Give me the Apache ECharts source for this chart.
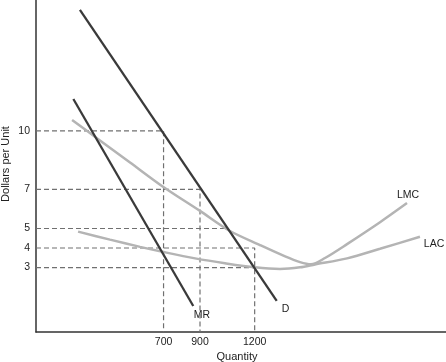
<!DOCTYPE html>
<html><head><meta charset="utf-8">
<script src="https://cdn.jsdelivr.net/npm/echarts@6/dist/echarts.min.js"></script>
<style>html,body{margin:0;padding:0;background:#fff}#c{width:446px;height:362px}</style>
</head><body><div id="c"></div>
<script>
// ---- data ----
const xTickValues = [700, 900, 1200];
const yTickValues = [3, 4, 5, 7, 10];
const demandQ = [241, 1321];
const demandP = [16.19, 1.29];
const mrQ = [205, 863];
const mrP = [11.63, 1.03];
const lmcQ = [198, 351, 516, 697, 900, 1065, 1229, 1367, 1449, 1509, 1586, 1707, 1888, 2036];
const lmcP = [10.56, 9.51, 8.38, 7.14, 5.90, 4.87, 4.15, 3.57, 3.28, 3.17, 3.49, 4.20, 5.32, 6.30];
const lacQ = [231, 406, 571, 708, 873, 1037, 1202, 1339, 1449, 1531, 1707, 1888, 2107];
const lacP = [4.84, 4.43, 4.06, 3.78, 3.47, 3.22, 3.01, 2.93, 3.01, 3.16, 3.47, 3.96, 4.58];
const guidePrice = [10, 7, 5, 4, 3];
const guideQty = [700, 900, 1050, 1200, 1200];
const guideDrop = [true, true, false, true, false];
const xMin = 0, xMax = 2250, yMin = -0.3, yMax = 16.7;

const zip = (a, b) => a.map((v, i) => [v, b[i]]);
const FONT = '"Liberation Sans", Arial, sans-serif';
const DARK = '#3a3a3a', GREY = '#b4b4b4', DASH = '#707070', TXT = '#222';

const guideSeries = guidePrice.map((p, i) => {
  const pts = [[xMin, p], [guideQty[i], p]];
  if (guideDrop[i]) pts.push([guideQty[i], yMin]);
  return {
    type: 'line', data: pts, showSymbol: false, silent: true, z: 1,
    lineStyle: { color: DASH, width: 1.2, type: [5, 3] }
  };
});
const curve = (data, color, width, smooth) => ({
  type: 'line', data, showSymbol: false, silent: true, smooth, z: 3,
  lineStyle: { color, width, cap: 'butt' }
});

const chart = echarts.init(document.getElementById('c'), null, { renderer: 'canvas' });
chart.setOption({
  animation: false,
  backgroundColor: '#fff',
  grid: { left: 36, right: 0, top: 0, bottom: 30, containLabel: false },
  xAxis: {
    type: 'value', min: xMin, max: xMax,
    axisLine: { show: true, onZero: false, lineStyle: { color: '#333', width: 1.5 } },
    axisTick: { show: false },
    splitLine: { show: false },
    axisLabel: { customValues: xTickValues, formatter: v => String(v), color: TXT, fontFamily: FONT, fontSize: 10.5, margin: 5 }
  },
  yAxis: {
    type: 'value', min: yMin, max: yMax,
    axisLine: { show: true, onZero: false, lineStyle: { color: '#333', width: 1.5 } },
    axisTick: { show: false },
    splitLine: { show: false },
    axisLabel: { customValues: yTickValues, formatter: v => String(v), color: TXT, fontFamily: FONT, fontSize: 10.5, margin: 6 }
  },
  series: [
    ...guideSeries,
    curve(zip(lmcQ, lmcP), GREY, 2.5, 0.3),
    curve(zip(lacQ, lacP), GREY, 2.5, 0.3),
    curve(zip(demandQ, demandP), DARK, 2.3, false),
    curve(zip(mrQ, mrP), DARK, 2.3, false)
  ],
  graphic: [
    { type: 'text', x: 6, y: 164, rotation: Math.PI / 2,
      style: { text: 'Dollars per Unit', font: '11px ' + FONT, fill: TXT, align: 'center', verticalAlign: 'middle' } },
    { type: 'text', x: 237, y: 357,
      style: { text: 'Quantity', font: '11px ' + FONT, fill: TXT, align: 'center', verticalAlign: 'middle' } },
    { type: 'text', x: 202, y: 315,
      style: { text: 'MR', font: '10.5px ' + FONT, fill: TXT, align: 'center', verticalAlign: 'middle' } },
    { type: 'text', x: 285.5, y: 309,
      style: { text: 'D', font: '10.5px ' + FONT, fill: TXT, align: 'center', verticalAlign: 'middle' } },
    { type: 'text', x: 408, y: 195,
      style: { text: 'LMC', font: '10.5px ' + FONT, fill: TXT, align: 'center', verticalAlign: 'middle' } },
    { type: 'text', x: 434, y: 244,
      style: { text: 'LAC', font: '10.5px ' + FONT, fill: TXT, align: 'center', verticalAlign: 'middle' } }
  ]
});
</script>
</body></html>
